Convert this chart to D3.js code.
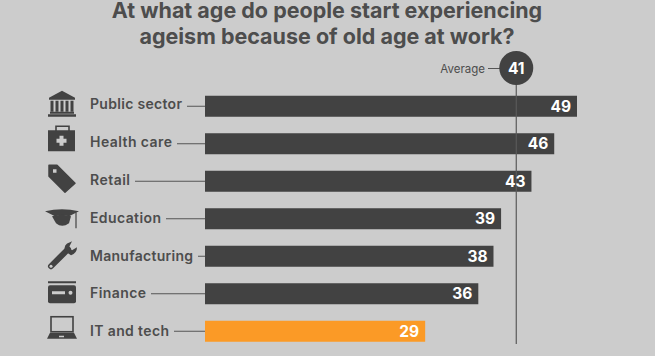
<!DOCTYPE html>
<html>
<head>
<meta charset="utf-8">
<script src="https://d3js.org/d3.v7.min.js"></script>
<style>
  html, body { margin: 0; padding: 0; background: #cccccc; overflow: hidden; }
  text { font-family: "Inter", "Open Sans", sans-serif; }
</style>
</head>
<body>
<div id="chart"></div>
<script>
const categories = ["Public sector", "Health care", "Retail", "Education", "Manufacturing", "Finance", "IT and tech"];
const ages = [49, 46, 43, 39, 38, 36, 29];
const averageAge = 41;
const labelEnds = [182, 172, 130, 161, 193, 146, 169];
const icons = ["bank", "kit", "tag", "cap", "wrench", "card", "laptop"];
const iconShift = [-2.5, -5.5, -3, 0.5, -1, 0.5, -2.5];
const titleLines = ["At what age do people start experiencing", "ageism because of old age at work?"];

const width = 655, height = 356;
const dark = "#424242", grey = "#cccccc", orange = "#fb9a26", textCol = "#4d4d4d";

const svg = d3.select("#chart").append("svg")
  .attr("width", width)
  .attr("height", height);

const x = d3.scaleLinear().domain([0, 49]).range([205, 577]);
const y = d3.scaleBand().domain(categories).range([87.5, 350]).paddingInner(0.44).paddingOuter(0.22);

// Title
svg.selectAll(".title")
  .data(titleLines)
  .enter().append("text")
  .attr("class", "title")
  .attr("x", 327)
  .attr("y", (d, i) => 18 + i * 26)
  .attr("text-anchor", "middle")
  .attr("font-size", 21.5)
  .attr("font-weight", 700)
  .attr("fill", textCol)
  .text(d => d);

// Leader lines from label to bar
svg.selectAll(".leader")
  .data(categories)
  .enter().append("line")
  .attr("x1", (d, i) => labelEnds[i] + 5)
  .attr("x2", x(0))
  .attr("y1", d => y(d) + y.bandwidth() / 2)
  .attr("y2", d => y(d) + y.bandwidth() / 2)
  .attr("stroke", "#555")
  .attr("stroke-width", 1);

// Bars
svg.selectAll(".bar")
  .data(categories)
  .enter().append("rect")
  .attr("class", "bar")
  .attr("x", x(0))
  .attr("y", d => y(d))
  .attr("width", (d, i) => x(ages[i]) - x(0))
  .attr("height", y.bandwidth())
  .attr("fill", d => d === "IT and tech" ? orange : dark);

// Average line and bubble
const avgX = x(averageAge);
svg.append("line")
  .attr("x1", avgX).attr("x2", avgX)
  .attr("y1", 68).attr("y2", 344)
  .attr("stroke", "#5a5a5a")
  .attr("stroke-width", 1.2);
svg.append("line")
  .attr("x1", 488).attr("x2", avgX)
  .attr("y1", 68.5).attr("y2", 68.5)
  .attr("stroke", "#555");
svg.append("circle")
  .attr("cx", avgX).attr("cy", 68)
  .attr("r", 17)
  .attr("fill", dark);
svg.append("text")
  .attr("x", avgX).attr("y", 74)
  .attr("text-anchor", "middle")
  .attr("font-size", 15.5)
  .attr("font-weight", 700)
  .attr("fill", "#fff")
  .text(averageAge);
svg.append("text")
  .attr("x", 485).attr("y", 72.5)
  .attr("text-anchor", "end")
  .attr("font-size", 11.5)
  .attr("fill", textCol)
  .text("Average");

// Category labels
svg.selectAll(".label")
  .data(categories)
  .enter().append("text")
  .attr("class", "label")
  .attr("x", 90)
  .attr("y", (d, i) => y(d) + y.bandwidth() / 2 + 3 + i * 0.33)
  .attr("font-size", 14)
  .attr("font-weight", 600)
  .attr("fill", textCol)
  .attr("textLength", (d, i) => labelEnds[i] - 90)
  .attr("lengthAdjust", "spacing")
  .text(d => d);

// Value labels
svg.selectAll(".value")
  .data(categories)
  .enter().append("text")
  .attr("class", "value")
  .attr("x", (d, i) => x(ages[i]) - 6)
  .attr("y", d => y(d) + y.bandwidth() / 2 + 5.5)
  .attr("text-anchor", "end")
  .attr("font-size", 15.5)
  .attr("font-weight", 700)
  .attr("fill", "#fff")
  .text((d, i) => ages[i]);

// Icons, each drawn around its own centre
const iconDraw = {
  bank(g) {
    g.append("path").attr("d", "M0,-13 L13,-6 V-4 H-13 V-6 Z").attr("fill", dark);
    [-10, -5, 0, 5, 10].forEach(px => {
      g.append("rect").attr("x", px - 1.5).attr("y", -3).attr("width", 3).attr("height", 11).attr("fill", dark);
    });
    g.append("rect").attr("x", -12).attr("y", 8).attr("width", 24).attr("height", 2).attr("fill", dark);
    g.append("rect").attr("x", -14).attr("y", 10.5).attr("width", 28).attr("height", 2.5).attr("fill", dark);
  },
  kit(g) {
    g.append("path").attr("d", "M-6,-7 V-12 H7 V-7").attr("fill", "none").attr("stroke", dark).attr("stroke-width", 1.6);
    g.append("rect").attr("x", -14).attr("y", -8).attr("width", 27).attr("height", 21).attr("fill", dark);
    g.append("path").attr("d", "M-2,-2 H2 V1 H5 V5 H2 V8 H-2 V5 H-5 V1 H-2 Z").attr("fill", grey).attr("transform", "translate(-0.5,-0.5)");
  },
  tag(g) {
    g.append("path").attr("d", "M-13,-13 H-5 L13,5 L3,14 L-13,-2 Z").attr("fill", dark).attr("stroke", dark).attr("stroke-width", 1.5).attr("stroke-linejoin", "round");
    g.append("rect").attr("x", -9).attr("y", -9).attr("width", 3.5).attr("height", 3.5).attr("fill", grey);
  },
  cap(g) {
    g.append("path").attr("d", "M-17,-8 Q0,-12 17,-8 L7,-3 Q0,-5 -7,-3 Z").attr("fill", dark);
    g.append("path").attr("d", "M-10,-3 Q0,-6 9,-3 L7,4 Q0,9 -6,4 Z").attr("fill", dark);
    g.append("line").attr("x1", 14).attr("x2", 14).attr("y1", -7).attr("y2", 9).attr("stroke", dark).attr("stroke-width", 1.2);
  },
  wrench(g) {
    g.append("line").attr("x1", -11).attr("y1", 11).attr("x2", 6).attr("y2", -6).attr("stroke", dark).attr("stroke-width", 6).attr("stroke-linecap", "round");
    g.append("path").attr("d", "M3,-4 Q1,-11 8,-13 L10,-14 L7,-8 L10,-5 L15,-8 Q15,-2 9,0 Z").attr("fill", dark);
    g.append("circle").attr("cx", -11).attr("cy", 11).attr("r", 1.5).attr("fill", grey);
  },
  card(g) {
    g.append("rect").attr("x", -14).attr("y", -13).attr("width", 28).attr("height", 2).attr("fill", dark);
    g.append("rect").attr("x", -14).attr("y", -9).attr("width", 28).attr("height", 18).attr("rx", 2).attr("fill", dark);
    g.append("rect").attr("x", -10).attr("y", -3).attr("width", 13).attr("height", 3).attr("fill", grey);
    g.append("circle").attr("cx", 8.5).attr("cy", -1.5).attr("r", 2).attr("fill", grey);
  },
  laptop(g) {
    g.append("rect").attr("x", -11).attr("y", -12).attr("width", 22).attr("height", 15).attr("fill", "none").attr("stroke", dark).attr("stroke-width", 1.6);
    g.append("path").attr("d", "M-12,4 H12 L15,10 H-15 Z").attr("fill", dark);
    g.append("rect").attr("x", -3).attr("y", 7).attr("width", 5).attr("height", 1.5).attr("fill", grey);
  }
};

icons.forEach((name, i) => {
  const cy = y(categories[i]) + y.bandwidth() / 2 + iconShift[i];
  const g = svg.append("g").attr("transform", `translate(62,${cy})`);
  iconDraw[name](g);
});
</script>
</body>
</html>
